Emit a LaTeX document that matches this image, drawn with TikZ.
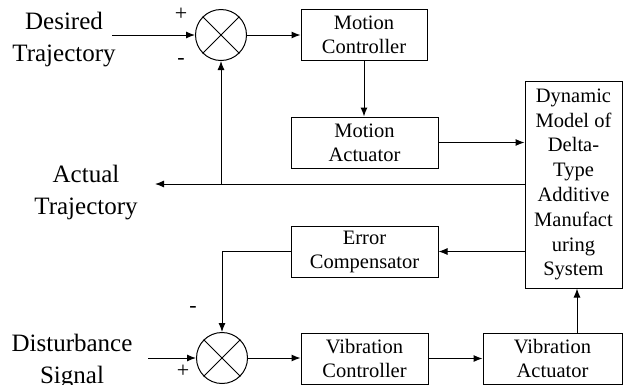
\documentclass[tikz,border=0pt]{standalone}
\usepackage{fontspec}
\setmainfont{Liberation Serif}
\usetikzlibrary{arrows.meta,positioning}

\begin{document}
\begin{tikzpicture}[
        x=1pt, y=-1pt,
        line width=1pt,
        >={Latex[length=9pt,width=7pt]},
        block/.style={
            draw,
            rectangle,
            align=center,
            inner sep=0pt,
            minimum height=51pt,
            font=\fontsize{20.5}{24}\selectfont
        },
        sumnode/.style={draw, circle, minimum size=51pt, inner sep=0pt},
        signal/.style={align=center, inner sep=0pt, font=\fontsize{25}{32}\selectfont},
        sign/.style={inner sep=0pt, font=\fontsize{22}{22}\selectfont}
    ]
        \useasboundingbox (0,0) rectangle (623,384);

        \node[signal] (desired) at (64,40) {Desired\\Trajectory};
        \node[signal] (actual) at (86,193) {Actual\\Trajectory};
        \node[signal] (disturb) at (72,362) {Disturbance\\Signal};

        \node[sumnode] (sum1) at (221,35) {};
        \node[sumnode] (sum2) at (222,358) {};
        \draw (sum1.north west) -- (sum1.south east) (sum1.north east) -- (sum1.south west);
        \draw (sum2.north west) -- (sum2.south east) (sum2.north east) -- (sum2.south west);

        \node[sign] (plus1) at (181,14) {+};
        \node[sign] (minus1) at (181,61) {-};
        \node[sign] (minus2) at (193,309) {-};
        \node[sign] (plus2) at (183,371) {+};

        \node[block, minimum width=126pt] (mctrl) at (364,34.5) {Motion\\Controller};
        \node[block, minimum width=147pt] (mact) at (364.5,142.5) {Motion\\Actuator};
        \node[block, minimum width=97pt, minimum height=207pt,
              font=\fontsize{20.5}{24.8}\selectfont] (dyn) at (573.5,184.5)
              {Dynamic\\Model of\\Delta-\\Type\\Additive\\Manufact\\uring\\System};
        \node[block, minimum width=147pt] (ecomp) at (364.5,251.5) {Error\\Compensator};
        \node[block, minimum width=127pt] (vctrl) at (364.5,358.5) {Vibration\\Controller};
        \node[block, minimum width=139pt] (vact) at (552.5,358.5) {Vibration\\Actuator};

        \coordinate (din) at (112,35);
        \coordinate (aout) at (155,184);
        \coordinate (fb) at (221,184);
        \coordinate (dist) at (148,358);

        \draw[->] (din) -- (sum1.west);
        \draw[->] (sum1.east) -- (sum1.east -| mctrl.west);
        \draw[->] (mctrl.south) -- (mctrl.south |- mact.north);
        \draw[->] (mact.east) -- (mact.east -| dyn.west);
        \draw[->] (dyn.west |- aout) -- (aout);
        \draw[->] (fb) -- (sum1.south);
        \draw[->] (dyn.west |- ecomp.east) -- (ecomp.east);
        \draw[->] (ecomp.west) -| (sum2.north);
        \draw[->] (dist) -- (sum2.west);
        \draw[->] (sum2.east) -- (sum2.east -| vctrl.west);
        \draw[->] (vctrl.east) -- (vctrl.east -| vact.west);
        \draw[->] ([xshift=3.5pt]vact.north -| dyn.south) -- ([xshift=3.5pt]dyn.south);
    \end{tikzpicture}
\end{document}
